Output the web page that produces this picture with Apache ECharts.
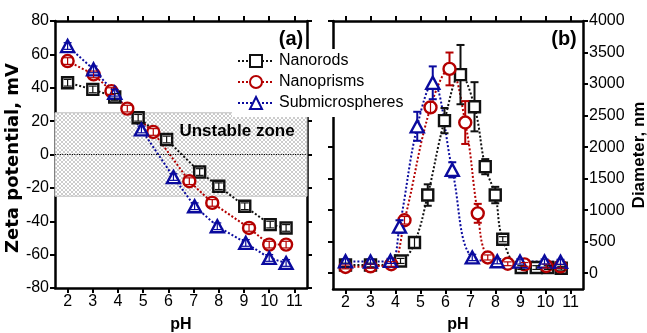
<!DOCTYPE html>
<html><head><meta charset="utf-8">
<script src="https://cdn.jsdelivr.net/npm/echarts@6/dist/echarts.min.js"></script>
<style>html,body{margin:0;padding:0;background:#fff}#c{width:647px;height:333px}</style>
</head><body><div id="c"></div>
<script>
// ---------- DATA ----------
const seriesNames = ['Nanorods', 'Nanoprisms', 'Submicrospheres'];
const phTicks = [2, 3, 4, 5, 6, 7, 8, 9, 10, 11];
const zetaTicks = [-80, -60, -40, -20, 0, 20, 40, 60, 80];
const diamTicks = [0, 500, 1000, 1500, 2000, 2500, 3000, 3500, 4000];
const unstableTop = 25;
const unstableBottom = -25;

// (a) zeta potential
const rodsPhZ = [2, 3, 3.87, 4.8, 5.93, 7.24, 8.0, 9.03, 10.04, 10.67];
const rodsZeta = [43, 39, 34.5, 22, 9, -10.5, -19, -31, -42, -44];
const rodsZetaErr = [2, 2, 2, 2, 2, 2, 2, 2, 2, 2];
const prismsPhZ = [2, 3.03, 3.74, 4.37, 5.4, 6.83, 7.74, 9.2, 10.0, 10.67];
const prismsZeta = [56, 48, 38, 27.5, 13.5, -16, -29, -44, -54, -54];
const prismsZetaErr = [2, 2, 2, 2, 2, 2, 2, 2, 2, 2];
const spheresPhZ = [2, 3.03, 3.87, 4.93, 6.2, 7.04, 7.94, 9.07, 10.0, 10.67];
const spheresZeta = [65, 51, 37, 15, -13.5, -31, -43, -53, -62, -65];
const spheresZetaErr = [2, 2, 2, 2, 2, 2, 2, 2, 2, 2];

// (b) diameter
const rodsPhD = [2, 3, 4.2, 4.76, 5.29, 5.96, 6.6, 7.16, 7.59, 7.99, 8.29, 9.03, 9.63, 10.09, 10.63];
const rodsDiam = [130, 130, 195, 487, 1240, 2420, 3150, 2640, 1690, 1240, 540, 90, 90, 90, 80];
const rodsDiamErr = [30, 30, 40, 80, 170, 200, 470, 390, 120, 130, 40, 30, 30, 30, 30];
const prismsPhD = [2, 3, 3.83, 4.36, 5.4, 6.16, 6.79, 7.29, 7.69, 8.49, 9.16, 10.03, 10.6];
const prismsDiam = [100, 110, 143, 840, 2630, 3240, 2390, 950, 250, 150, 140, 115, 110];
const prismsDiamErr = [30, 30, 40, 60, 80, 260, 340, 150, 40, 30, 30, 30, 30];
const spheresPhD = [2, 3, 3.8, 4.16, 4.87, 5.49, 6.27, 7.07, 8.07, 8.98, 9.96, 10.6];
const spheresDiam = [190, 185, 195, 740, 2330, 3020, 1640, 250, 190, 185, 185, 180];
const spheresDiamErr = [40, 40, 40, 100, 230, 260, 120, 50, 40, 40, 40, 40];

// ---------- STYLE ----------
const colors = ['#111111', '#b40000', '#0a0a9e'];
const symbols = ['rect', 'circle', 'triangle'];
const symSizes = [11, 12, [13, 12]];
const FONT = '"Liberation Sans", Arial, sans-serif';

function hatch() {
  const c = document.createElement('canvas');
  c.width = 4; c.height = 4;
  const g = c.getContext('2d');
  g.fillStyle = '#ffffff'; g.fillRect(0, 0, 4, 4);
  g.fillStyle = '#cccccc';
  for (let i = 0; i < 4; i++) { g.fillRect(i, i, 1, 1); g.fillRect(3 - i, i, 1, 1); }
  return c;
}

function pairs(xs, ys) { return xs.map((x, i) => [x, ys[i]]); }

function lineSeries(k, ax, xs, ys, smooth) {
  return {
    type: 'line', name: seriesNames[k], xAxisIndex: ax, yAxisIndex: ax,
    data: pairs(xs, ys), smooth: smooth,
    symbol: symbols[k], symbolSize: symSizes[k], showAllSymbol: true,
    lineStyle: { color: colors[k], width: 2, type: 'dotted' },
    itemStyle: { color: '#ffffff', borderColor: colors[k], borderWidth: 2.4 },
    emphasis: { disabled: true }, z: 3
  };
}

function errSeries(k, ax, xs, ys, es) {
  return {
    type: 'custom', xAxisIndex: ax, yAxisIndex: ax, silent: true, z: 4,
    data: xs.map((x, i) => [x, ys[i], es[i]]),
    renderItem: function (params, api) {
      const x = api.value(0), y = api.value(1), e = api.value(2);
      const c = api.coord([x, y]);
      const t = api.coord([x, y + e]);
      const b = api.coord([x, y - e]);
      const st = { stroke: colors[k], lineWidth: 2 };
      const h = 6, cw = 4;
      const ch = [];
      const big = c[1] - t[1] > h;
      if (big) {
        ch.push({ type: 'line', shape: { x1: c[0], y1: c[1] - h, x2: c[0], y2: t[1] }, style: st });
        ch.push({ type: 'line', shape: { x1: c[0], y1: c[1] + h, x2: c[0], y2: b[1] }, style: st });
      } else {
        ch.push({ type: 'line', shape: { x1: c[0], y1: t[1], x2: c[0], y2: b[1] }, style: { stroke: colors[k], lineWidth: 1.2 } });
      }
      const lw = big ? 2 : 1.2;
      ch.push({ type: 'line', shape: { x1: c[0] - cw, y1: t[1], x2: c[0] + cw, y2: t[1] }, style: { stroke: colors[k], lineWidth: lw } });
      ch.push({ type: 'line', shape: { x1: c[0] - cw, y1: b[1], x2: c[0] + cw, y2: b[1] }, style: { stroke: colors[k], lineWidth: lw } });
      return { type: 'group', children: ch };
    }
  };
}

const axLine = { show: true, onZero: false, lineStyle: { color: '#000', width: 2.5 } };
const axTick = (vals) => ({ show: true, inside: false, length: 5, lineStyle: { color: '#000', width: 2 }, customValues: vals });
const lbl = (vals, show) => ({ show: show, color: '#000', fontSize: 16, fontFamily: FONT, margin: 6, customValues: vals,
  formatter: (v) => String(v) });

function xAx(grid, pos, showLbl) {
  return { type: 'value', gridIndex: grid, position: pos, min: 1.5, max: 11.5,
    axisLine: axLine, axisTick: axTick(phTicks), axisLabel: lbl(phTicks, showLbl), splitLine: { show: false } };
}

const chart = echarts.init(document.getElementById('c'), null, { renderer: 'canvas' });
const option = {
  animation: false,
  backgroundColor: '#ffffff',
  grid: [
    { left: 55, top: 21, width: 252, height: 267 },
    { left: 333, top: 21, width: 250, height: 268 }
  ],
  xAxis: [xAx(0, 'bottom', true), xAx(1, 'bottom', true), xAx(0, 'top', false), xAx(1, 'top', false)],
  yAxis: [
    { type: 'value', gridIndex: 0, position: 'left', min: -80, max: 80, interval: 20,
      axisLine: axLine, axisTick: axTick(zetaTicks), axisLabel: lbl(zetaTicks, true), splitLine: { show: false } },
    { type: 'value', gridIndex: 1, position: 'right', min: -250, max: 4000,
      axisLine: axLine, axisTick: axTick(diamTicks), axisLabel: lbl(diamTicks, true), splitLine: { show: false } },
    { type: 'value', gridIndex: 0, position: 'right', min: -80, max: 80, interval: 20,
      axisLine: axLine, axisTick: axTick(zetaTicks), axisLabel: lbl(zetaTicks, false), splitLine: { show: false } },
    { type: 'value', gridIndex: 1, position: 'left', min: -250, max: 4000,
      axisLine: axLine, axisTick: axTick(diamTicks), axisLabel: lbl(diamTicks, false), splitLine: { show: false } }
  ],
  legend: {
    data: seriesNames, orient: 'vertical', left: 232, top: 49,
    itemWidth: 36, itemHeight: 15, itemGap: 5, padding: [4, 6, 6, 5],
    backgroundColor: '#ffffff',
    textStyle: { fontSize: 16, fontFamily: FONT, color: '#000' }
  },
  graphic: [
    { type: 'text', x: 291, y: 39, z: 10, style: { text: '(a)', font: 'bold 20px ' + FONT, fill: '#000', align: 'center', verticalAlign: 'middle' } },
    { type: 'text', x: 564, y: 39, z: 10, style: { text: '(b)', font: 'bold 20px ' + FONT, fill: '#000', align: 'center', verticalAlign: 'middle' } },
    { type: 'text', x: 237, y: 131, z: 10, style: { text: 'Unstable zone', font: 'bold 17px ' + FONT, fill: '#000', align: 'center', verticalAlign: 'middle' } },
    { type: 'text', x: 181, y: 325, style: { text: 'pH', font: 'bold 16px ' + FONT, fill: '#000', align: 'center', verticalAlign: 'middle' } },
    { type: 'text', x: 458, y: 325, style: { text: 'pH', font: 'bold 16px ' + FONT, fill: '#000', align: 'center', verticalAlign: 'middle' } },
    { type: 'text', x: 13, y: 158, rotation: Math.PI / 2, style: { text: 'Zeta potential, mV', font: 'bold 18px "DejaVu Sans", sans-serif', fill: '#000', align: 'center', verticalAlign: 'middle' } },
    { type: 'text', x: 639, y: 155, rotation: Math.PI / 2, style: { text: 'Diameter, nm', font: 'bold 17px ' + FONT, fill: '#000', align: 'center', verticalAlign: 'middle' } }
  ],
  series: [
    Object.assign(lineSeries(0, 0, rodsPhZ, rodsZeta, false), {
      markArea: { silent: true, itemStyle: { color: { image: hatch(), repeat: 'repeat' }, borderColor: '#c0c0c0', borderWidth: 1 },
        data: [[{ yAxis: unstableTop }, { yAxis: unstableBottom }]] },
      markLine: { silent: true, symbol: 'none', label: { show: false },
        lineStyle: { color: '#000', type: 'dotted', width: 1.2 }, data: [{ yAxis: 0 }] }
    }),
    lineSeries(1, 0, prismsPhZ, prismsZeta, false),
    lineSeries(2, 0, spheresPhZ, spheresZeta, false),
    errSeries(0, 0, rodsPhZ, rodsZeta, rodsZetaErr),
    errSeries(1, 0, prismsPhZ, prismsZeta, prismsZetaErr),
    errSeries(2, 0, spheresPhZ, spheresZeta, spheresZetaErr),
    lineSeries(0, 1, rodsPhD, rodsDiam, 0.4),
    lineSeries(1, 1, prismsPhD, prismsDiam, 0.4),
    lineSeries(2, 1, spheresPhD, spheresDiam, 0.4),
    errSeries(0, 1, rodsPhD, rodsDiam, rodsDiamErr),
    errSeries(1, 1, prismsPhD, prismsDiam, prismsDiamErr),
    errSeries(2, 1, spheresPhD, spheresDiam, spheresDiamErr)
  ]
};
chart.setOption(option);
</script>
</body></html>
